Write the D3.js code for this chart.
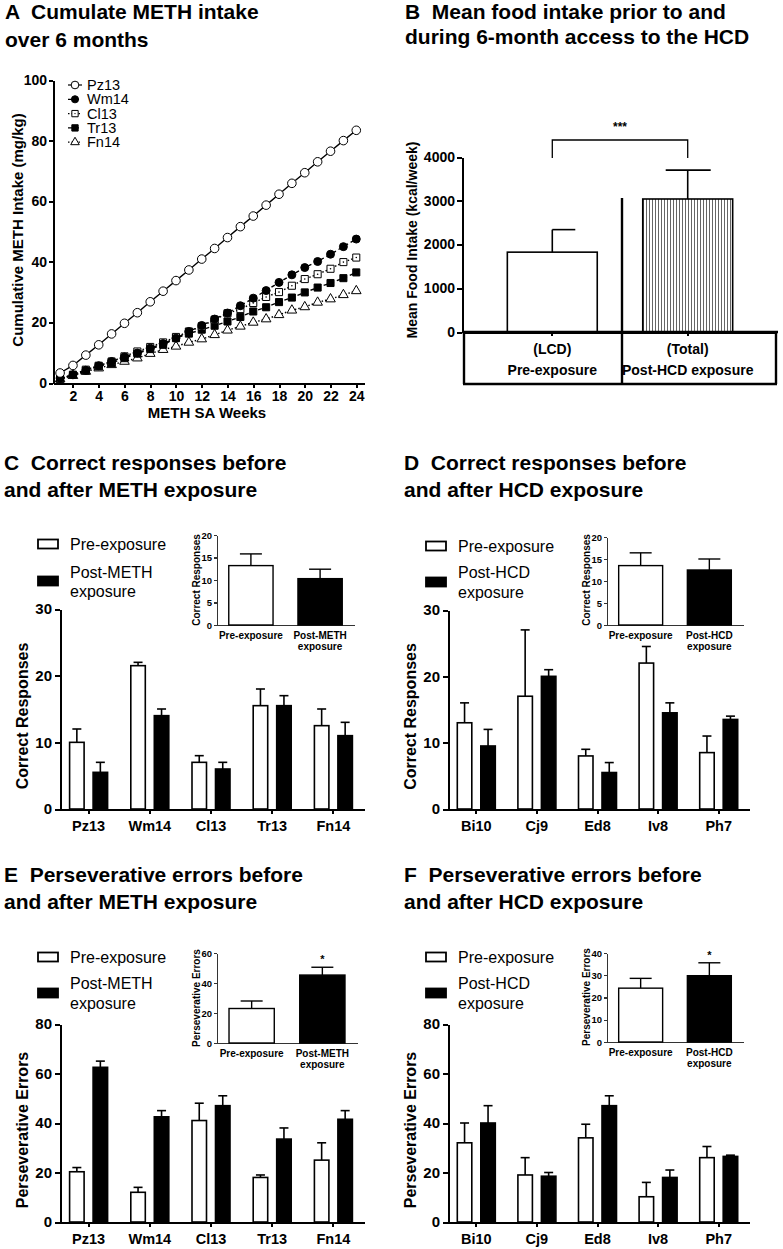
<!DOCTYPE html>
<meta charset="utf-8">
<script src="https://cdn.jsdelivr.net/npm/d3@7"></script>
<style>
    body { margin: 0; background: #fff; }
    svg { font-family: "Liberation Sans", Arial, sans-serif; }
    .axis path, .axis line { stroke: #000; stroke-width: 2; fill: none; shape-rendering: crispEdges; }
    .axis text { font-weight: bold; fill: #000; }
    .inset path, .inset line { stroke: #333; stroke-width: 1.2; }
    .title { font-size: 21px; font-weight: bold; white-space: pre; }
</style>
<body>
<div id="fig"></div>
<script>

// ---- A: cumulative METH intake (mg/kg) by week
var weeks = [1,2,3,4,5,6,7,8,9,10,11,12,13,14,15,16,17,18,19,20,21,22,23,24]
var weekTicks = [2,4,6,8,10,12,14,16,18,20,22,24]
var intakeTicks = [0,20,40,60,80,100]
var pz13 = [3.3,5.8,9.2,12.6,16.2,19.7,23.2,26.8,30.3,33.8,37.3,40.9,44.4,48.0,51.6,55.1,58.7,62.3,65.9,69.4,73.0,76.5,80.0,83.4]
var wm14 = [1.6,2.7,4.2,5.7,7.1,8.6,9.9,11.5,13.0,14.8,17.0,19.0,21.1,23.1,25.5,28.0,30.5,33.2,35.7,38.1,40.1,42.5,45.0,47.5]
var cl13 = [1.4,2.7,4.4,5.7,7.1,8.8,10.4,11.9,13.4,15.2,17.0,18.7,20.9,23.0,24.4,26.4,28.4,30.0,32.1,34.3,35.9,37.7,39.9,41.4]
var tr13 = [1.3,2.7,4.1,5.5,6.6,8.2,9.7,11.2,12.6,14.8,16.3,17.6,18.9,20.3,21.8,23.6,25.0,26.7,28.2,29.9,31.5,33.0,34.6,36.5]
var fn14 = [1.3,2.4,3.8,4.9,6.0,7.1,8.2,9.7,11.0,12.1,13.4,14.5,15.9,17.4,18.7,20.0,21.1,22.5,24.0,25.1,26.6,27.7,29.1,30.4]
var ratNamesA = ["Pz13","Wm14","Cl13","Tr13","Fn14"]

// ---- B: mean food intake (kcal/week)
var foodDiet = ["(LCD)","(Total)"]
var foodPhase = ["Pre-exposure","Post-HCD exposure"]
var foodMean = [1825, 3040]
var foodSem = [515, 660]
var foodTicks = [0,1000,2000,3000,4000]

// ---- C-F: per-rat bars (mean, SEM) and pooled insets
var methRats = ["Pz13","Wm14","Cl13","Tr13","Fn14"]
var hcdRats = ["Bi10","Cj9","Ed8","Iv8","Ph7"]

var corrMethPre = [10,21.5,7,15.5,12.5]
var corrMethPreSem = [2,0.5,1,2.5,2.5]
var corrMethPost = [5.5,14,6,15.5,11]
var corrMethPostSem = [1.5,1,1,1.5,2]
var corrMethInset = [13.2,10.3]
var corrMethInsetSem = [2.6,2.1]

var corrHcdPre = [13,17,8,22,8.5]
var corrHcdPreSem = [3,10,1,2.5,2.5]
var corrHcdPost = [9.5,20,5.5,14.5,13.5]
var corrHcdPostSem = [2.5,1,1.5,1.5,0.5]
var corrHcdInset = [13.5,12.5]
var corrHcdInsetSem = [2.9,2.5]

var persMethPre = [20.3,12,41,18,25]
var persMethPreSem = [1.7,2,7,1,7]
var persMethPost = [62.5,42.5,47,33.5,41.5]
var persMethPostSem = [2.5,2.5,4,4.5,3.5]
var persMethInset = [23,45.3]
var persMethInsetSem = [5,5.2]

var persHcdPre = [32,19,34,10.2,26]
var persHcdPreSem = [8,7,5.5,5.8,4.5]
var persHcdPost = [40,18.5,47,18,26.5]
var persHcdPostSem = [7,1.5,4,3,0.5]
var persHcdInset = [24.2,29.8]
var persHcdInsetSem = [4.4,5.8]

var corrTicks = [0,10,20,30]
var corrInsetTicks = [0,5,10,15,20]
var persTicks = [0,20,40,60,80]
var persMethInsetTicks = [0,20,40,60]
var persHcdInsetTicks = [0,10,20,30,40]

var svg = d3.select("#fig").append("svg").attr("width", 783).attr("height", 1249)
var defs = svg.append("defs")
var pat = defs.append("pattern").attr("id", "vstripe").attr("width", 3).attr("height", 10).attr("patternUnits", "userSpaceOnUse")
pat.append("rect").attr("width", 3).attr("height", 10).attr("fill", "#fff")
pat.append("line").attr("x1", 1.5).attr("x2", 1.5).attr("y1", 0).attr("y2", 10).attr("stroke", "#555").attr("stroke-width", 0.9)

function title(x, ys, lines) {
    lines.forEach((t, i) => {
        svg.append("text").attr("class", "title").attr("x", x).attr("y", ys[i]).attr("dy", "0.35em").text(t)
    })
}

// ================= Panel A =================
title(5, [12, 40], ["A  Cumulate METH intake", "over 6 months"])

var xA = d3.scaleLinear().domain([0.45, 24.6]).range([53, 364])
var yA = d3.scaleLinear().domain([0, 100]).range([383, 80])

svg.append("g").attr("class", "axis").attr("transform", "translate(0,383)")
    .call(d3.axisBottom(xA).tickValues(weekTicks).tickSize(5).tickSizeOuter(0).tickPadding(3))
    .selectAll("text").style("font-size", "14px")
svg.append("g").attr("class", "axis").attr("transform", "translate(53,0)")
    .call(d3.axisLeft(yA).tickValues(intakeTicks).tickSize(4).tickSizeOuter(0).tickPadding(2))
    .selectAll("text").style("font-size", "14px")

svg.append("text").attr("x", 207).attr("y", 413).attr("dy", "0.35em").attr("text-anchor", "middle")
    .style("font-weight", "bold").style("font-size", "15px").text("METH SA Weeks")
svg.append("text").attr("transform", "translate(18,230) rotate(-90)").attr("dy", "0.35em").attr("text-anchor", "middle")
    .style("font-weight", "bold").style("font-size", "15px").text("Cumulative METH Intake (mg/kg)")

var seriesA = [
    {name: ratNamesA[0], vals: pz13, sym: d3.symbolCircle, size: 58, fill: "#fff", dash: null, dot: false},
    {name: ratNamesA[1], vals: wm14, sym: d3.symbolCircle, size: 50, fill: "#000", dash: "4,3", dot: false},
    {name: ratNamesA[2], vals: cl13, sym: d3.symbolSquare, size: 50, fill: "#fff", dash: "1.5,2", dot: true},
    {name: ratNamesA[3], vals: tr13, sym: d3.symbolSquare, size: 50, fill: "#000", dash: "4,3", dot: false},
    {name: ratNamesA[4], vals: fn14, sym: d3.symbolTriangle, size: 40, fill: "#fff", dash: "1.5,2", dot: false}
]
var lineA = d3.line().x(d => xA(d[0])).y(d => yA(d[1]))

seriesA.slice().reverse().forEach(s => {
    var pts = weeks.map((w, i) => [w, s.vals[i]])
    svg.append("path").datum(pts).attr("d", lineA).attr("fill", "none").attr("stroke", "#000")
        .attr("stroke-width", 1.4).attr("stroke-dasharray", s.dash)
    svg.selectAll(null).data(pts).enter().append("path")
        .attr("transform", d => "translate(" + xA(d[0]) + "," + yA(d[1]) + ")")
        .attr("d", d3.symbol().type(s.sym).size(s.size))
        .attr("fill", s.fill).attr("stroke", "#000").attr("stroke-width", 1)
    if (s.dot) {
        svg.selectAll(null).data(pts).enter().append("circle")
            .attr("cx", d => xA(d[0])).attr("cy", d => yA(d[1])).attr("r", 0.8).attr("fill", "#000")
    }
})

// legend A
seriesA.forEach((s, i) => {
    var ly = 85 + i * 14.3
    svg.append("line").attr("x1", 68).attr("x2", 82).attr("y1", ly).attr("y2", ly)
        .attr("stroke", "#000").attr("stroke-width", 1.2).attr("stroke-dasharray", s.dash)
    svg.append("path").attr("transform", "translate(75," + ly + ")")
        .attr("d", d3.symbol().type(s.sym).size(s.size * 0.8)).attr("fill", s.fill).attr("stroke", "#000")
    if (s.dot) svg.append("circle").attr("cx", 75).attr("cy", ly).attr("r", 0.7)
    svg.append("text").attr("x", 87).attr("y", ly).attr("dy", "0.35em").style("font-size", "14.5px").text(s.name)
})

// ================= Panel B =================
title(405, [12, 37], ["B  Mean food intake prior to and", "during 6-month access to the HCD"])

var xB = d3.scaleBand().domain(foodDiet).range([464, 776]).paddingInner(0.336).paddingOuter(0.32)
var yB = d3.scaleLinear().domain([0, 4000]).range([332, 157])

svg.append("g").attr("class", "axis").attr("transform", "translate(462,0)")
    .call(d3.axisLeft(yB).tickValues(foodTicks).tickFormat(d3.format("d")).tickSize(5).tickSizeOuter(0).tickPadding(2))
    .selectAll("text").style("font-size", "14px")
svg.append("g").attr("class", "axis").attr("transform", "translate(0,332)")
    .call(d3.axisBottom(xB).tickSize(4).tickSizeOuter(0).tickFormat(""))

svg.selectAll(".food").data(foodDiet).enter().append("rect").attr("class", "food")
    .attr("x", d => xB(d)).attr("width", xB.bandwidth())
    .attr("y", (d, i) => yB(foodMean[i])).attr("height", (d, i) => yB(0) - yB(foodMean[i]))
    .attr("fill", (d, i) => i == 0 ? "#fff" : "url(#vstripe)").attr("stroke", "#000").attr("stroke-width", 1.6)

foodDiet.forEach((d, i) => {
    var cx = xB(d) + xB.bandwidth() / 2
    svg.append("line").attr("x1", cx).attr("x2", cx).attr("y1", yB(foodMean[i])).attr("y2", yB(foodMean[i] + foodSem[i]))
        .attr("stroke", "#000").attr("stroke-width", 1.6)
    svg.append("line").attr("x1", i == 0 ? cx : cx - 22).attr("x2", cx + 23)
        .attr("y1", yB(foodMean[i] + foodSem[i])).attr("y2", yB(foodMean[i] + foodSem[i]))
        .attr("stroke", "#000").attr("stroke-width", 1.6)
    svg.append("text").attr("x", cx).attr("y", 349).attr("dy", "0.35em").attr("text-anchor", "middle")
        .style("font-weight", "bold").style("font-size", "14px").text(d)
    svg.append("text").attr("x", cx).attr("y", 370).attr("dy", "0.35em").attr("text-anchor", "middle")
        .style("font-weight", "bold").style("font-size", "14px").text(foodPhase[i])
})

// table frame under the bars
var frame = [[462, 332, 778, 332], [464, 332, 464, 384], [463, 384, 777, 384], [776, 332, 776, 384], [622, 198, 622, 384]]
frame.forEach(f => {
    svg.append("line").attr("x1", f[0]).attr("y1", f[1]).attr("x2", f[2]).attr("y2", f[3])
        .attr("stroke", "#000").attr("stroke-width", 2.4)
})

// significance bracket
var c1 = xB(foodDiet[0]) + xB.bandwidth() / 2, c2 = xB(foodDiet[1]) + xB.bandwidth() / 2
svg.append("path").attr("d", "M" + c1 + ",158V140H" + c2 + "V158").attr("fill", "none").attr("stroke", "#000").attr("stroke-width", 1.3)
svg.append("text").attr("x", (c1 + c2) / 2).attr("y", 127).attr("dy", "0.35em").attr("text-anchor", "middle")
    .style("font-size", "12px").style("font-weight", "bold").text("***")

svg.append("text").attr("transform", "translate(412,240) rotate(-90)").attr("dy", "0.35em").attr("text-anchor", "middle")
    .style("font-weight", "bold").style("font-size", "14px").text("Mean Food Intake (kcal/week)")

// ================= Panels C-F =================
function errorBar(g, cx, y0, y1, half, w) {
    g.append("line").attr("x1", cx).attr("x2", cx).attr("y1", y0).attr("y2", y1).attr("stroke", "#000").attr("stroke-width", w)
    g.append("line").attr("x1", cx - half).attr("x2", cx + half).attr("y1", y1).attr("y2", y1).attr("stroke", "#000").attr("stroke-width", w)
}

function barPanel(o) {
    var g = svg.append("g")
    title(o.titleX, o.titleY, o.title)

    // legend
    var lg = [[o.legY[0], "#fff"], [o.legY[1], "#000"]]
    lg.forEach(l => {
        g.append("rect").attr("x", o.legX).attr("y", l[0] - 4.5).attr("width", 20).attr("height", 9)
            .attr("fill", l[1]).attr("stroke", "#000").attr("stroke-width", 1.8)
    })
    o.legText.forEach((t, i) => {
        g.append("text").attr("x", o.legX + 32).attr("y", o.legTextY[i]).attr("dy", "0.35em").style("font-size", "16px").text(t)
    })

    // main chart
    var x = d3.scaleBand().domain(o.cats).range(o.mainX)
    var sub = d3.scaleBand().domain(["pre", "post"]).range([-19, 19]).paddingInner(0.383)
    var y = d3.scaleLinear().domain([0, o.ticks[o.ticks.length - 1]]).range(o.mainY)

    g.append("g").attr("class", "axis").attr("transform", "translate(0," + o.mainY[0] + ")")
        .call(d3.axisBottom(x).tickSize(5).tickSizeOuter(0).tickPadding(7))
        .selectAll("text").style("font-size", "14.5px")
    g.append("g").attr("class", "axis").attr("transform", "translate(" + o.axisX + ",0)")
        .call(d3.axisLeft(y).tickValues(o.ticks).tickSize(5).tickSizeOuter(0).tickPadding(3))
        .selectAll("text").style("font-size", "15px")

    var groups = [["pre", o.pre, o.preSem, "#fff"], ["post", o.post, o.postSem, "#000"]]
    groups.forEach(gr => {
        o.cats.forEach((c, i) => {
            var bx = x(c) + x.bandwidth() / 2 + sub(gr[0])
            errorBar(g, bx + sub.bandwidth() / 2, y(gr[1][i]), y(gr[1][i] + gr[2][i]), 4.5, 1.6)
        })
        g.selectAll(null).data(o.cats).enter().append("rect")
            .attr("x", c => x(c) + x.bandwidth() / 2 + sub(gr[0])).attr("width", sub.bandwidth())
            .attr("y", (c, i) => y(gr[1][i])).attr("height", (c, i) => y(0) - y(gr[1][i]))
            .attr("fill", gr[3]).attr("stroke", "#000").attr("stroke-width", 1.6)
    })

    g.append("text").attr("transform", "translate(" + o.ylabX + "," + ((o.mainY[0] + o.mainY[1]) / 2 + 7) + ") rotate(-90)")
        .attr("dy", "0.35em").attr("text-anchor", "middle")
        .style("font-weight", "bold").style("font-size", "16px").text(o.ylab)

    // inset chart
    var xi = d3.scaleBand().domain(["pre", "post"]).range(o.insX).paddingInner(0.36).paddingOuter(0.17)
    var yi = d3.scaleLinear().domain([0, o.insTicks[o.insTicks.length - 1]]).range(o.insY)
    g.append("g").attr("class", "axis inset").attr("transform", "translate(0," + o.insY[0] + ")")
        .call(d3.axisBottom(xi).tickSize(0).tickSizeOuter(0).tickFormat(""))
    g.append("g").attr("class", "axis inset").attr("transform", "translate(" + o.insX[0] + ",0)")
        .call(d3.axisLeft(yi).tickValues(o.insTicks).tickSize(3).tickSizeOuter(0).tickPadding(2))
        .selectAll("text").style("font-size", "9.5px")

    ;["pre", "post"].forEach((k, i) => {
        var bx = xi(k)
        errorBar(g, bx + xi.bandwidth() / 2, yi(o.ins[i]), yi(o.ins[i] + o.insSem[i]), 11, 1.4)
        g.append("rect").attr("x", bx).attr("width", xi.bandwidth())
            .attr("y", yi(o.ins[i])).attr("height", yi(0) - yi(o.ins[i]))
            .attr("fill", i == 0 ? "#fff" : "#000").attr("stroke", "#000").attr("stroke-width", 1.4)
        o.insLabels[i].forEach((t, j) => {
            g.append("text").attr("x", bx + xi.bandwidth() / 2).attr("y", o.insY[0] + 10 + j * 11.5).attr("dy", "0.35em")
                .attr("text-anchor", "middle").style("font-weight", "bold").style("font-size", "10px").text(t)
        })
        if (o.insStar && i == 1) {
            g.append("text").attr("x", bx + xi.bandwidth() / 2).attr("y", yi(o.ins[i] + o.insSem[i]) - 8).attr("dy", "0.35em")
                .attr("text-anchor", "middle").style("font-weight", "bold").style("font-size", "11px").text("*")
        }
    })
    g.append("text").attr("transform", "translate(" + (o.insX[0] - 21) + "," + (o.insY[0] - 45) + ") rotate(-90)")
        .attr("dy", "0.35em").attr("text-anchor", "middle")
        .style("font-weight", "bold").style("font-size", "10px").text(o.ylab)
}

barPanel({
    title: ["C  Correct responses before", "and after METH exposure"], titleX: 4, titleY: [463, 490],
    legX: 38, legY: [544, 581], legText: ["Pre-exposure", "Post-METH", "exposure"], legTextY: [544, 572, 591],
    cats: methRats, pre: corrMethPre, preSem: corrMethPreSem, post: corrMethPost, postSem: corrMethPostSem,
    ticks: corrTicks, mainX: [58, 364], mainY: [809, 609], axisX: 60, ylabX: 22, ylab: "Correct Responses",
    ins: corrMethInset, insSem: corrMethInsetSem, insTicks: corrInsetTicks, insX: [217, 354], insY: [625, 535],
    insLabels: [["Pre-exposure"], ["Post-METH", "exposure"]], insStar: false
})

barPanel({
    title: ["D  Correct responses before", "and after HCD exposure"], titleX: 404, titleY: [463, 490],
    legX: 426, legY: [546, 582], legText: ["Pre-exposure", "Post-HCD", "exposure"], legTextY: [546, 572, 592],
    cats: hcdRats, pre: corrHcdPre, preSem: corrHcdPreSem, post: corrHcdPost, postSem: corrHcdPostSem,
    ticks: corrTicks, mainX: [446, 749], mainY: [809, 610], axisX: 448, ylabX: 410, ylab: "Correct Responses",
    ins: corrHcdInset, insSem: corrHcdInsetSem, insTicks: corrInsetTicks, insX: [607, 743], insY: [625, 537],
    insLabels: [["Pre-exposure"], ["Post-HCD", "exposure"]], insStar: false
})

barPanel({
    title: ["E  Perseverative errors before", "and after METH exposure"], titleX: 4, titleY: [875, 902],
    legX: 38, legY: [957, 993], legText: ["Pre-exposure", "Post-METH", "exposure"], legTextY: [957, 983, 1003],
    cats: methRats, pre: persMethPre, preSem: persMethPreSem, post: persMethPost, postSem: persMethPostSem,
    ticks: persTicks, mainX: [58, 364], mainY: [1222, 1024], axisX: 60, ylabX: 22, ylab: "Perseverative Errors",
    ins: persMethInset, insSem: persMethInsetSem, insTicks: persMethInsetTicks, insX: [217, 357], insY: [1043, 953],
    insLabels: [["Pre-exposure"], ["Post-METH", "exposure"]], insStar: true
})

barPanel({
    title: ["F  Perseverative errors before", "and after HCD exposure"], titleX: 404, titleY: [875, 902],
    legX: 426, legY: [957, 993], legText: ["Pre-exposure", "Post-HCD", "exposure"], legTextY: [957, 983, 1003],
    cats: hcdRats, pre: persHcdPre, preSem: persHcdPreSem, post: persHcdPost, postSem: persHcdPostSem,
    ticks: persTicks, mainX: [446, 749], mainY: [1222, 1024], axisX: 448, ylabX: 410, ylab: "Perseverative Errors",
    ins: persHcdInset, insSem: persHcdInsetSem, insTicks: persHcdInsetTicks, insX: [607, 743], insY: [1042, 953],
    insLabels: [["Pre-exposure"], ["Post-HCD", "exposure"]], insStar: true
})

</script>
</body>
</html>
